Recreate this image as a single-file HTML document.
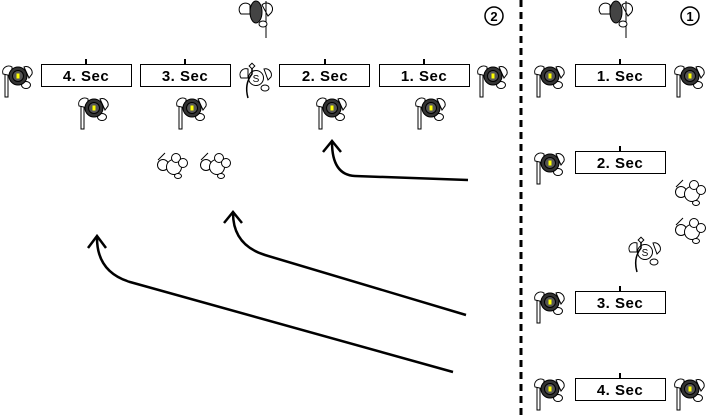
<!DOCTYPE html>
<html><head><meta charset="utf-8"><style>
html,body{margin:0;padding:0;background:#fff;}
svg{display:block}
text{font-family:"Liberation Sans",sans-serif;}
</style></head><body>
<svg width="712" height="417" viewBox="0 0 712 417" xmlns="http://www.w3.org/2000/svg">
<defs>
<g id="f" stroke="#000" stroke-width="1" fill="#fff">
<rect x="-13" y="-5" width="3" height="26"/>
<path d="M-15,-2 a6,6 0 0 1 9,-7 l0,9 z"/>
<path d="M6,-9 a6,6 0 0 1 8,7 l-3,4 z"/>
<ellipse cx="8" cy="9" rx="4.5" ry="3.5"/>
<circle cx="0" cy="0" r="9" fill="#333"/>
<circle cx="0" cy="0" r="5.5" fill="#555"/>
<rect x="-1.5" y="-2.5" width="3" height="5" fill="#ff0" stroke="none"/>
</g>
<g id="g" stroke="#000" stroke-width="1" fill="#fff">
<path d="M-15,2 a6,6 0 0 1 9,-9 l0,9 z"/>
<path d="M6,-7 a6,6 0 0 1 9,8 l-3,3 z"/>
<line x1="10" y1="-11" x2="10" y2="26"/>
<ellipse cx="0" cy="0" rx="6" ry="11" fill="#444"/>
<ellipse cx="7" cy="12" rx="4" ry="3"/>
</g>
<g id="d" stroke="#000" stroke-width="1" fill="#fff">
<path d="M-14,-3 l7,-7"/>
<circle cx="-9" cy="2" r="5.5"/>
<circle cx="2" cy="4" r="7.5"/>
<circle cx="4" cy="-5" r="4.5"/>
<circle cx="11" cy="0" r="4.5"/>
<ellipse cx="6" cy="13" rx="3.5" ry="2.5"/>
</g>
<g id="s" stroke="#000" stroke-width="1" fill="#fff">
<path d="M-15,2 a6,6 0 0 1 7,-9 l0,9 z"/>
<path d="M8,-7 a6,6 0 0 1 7,8 l-3,3 z"/>
<circle cx="0" cy="2" r="7.5"/>
<text x="0" y="6" font-size="10" text-anchor="middle" fill="#000" stroke="none">S</text>
<ellipse cx="9" cy="12" rx="4" ry="3"/>
<path d="M-4,-8 l0,6 q-8,10 -4,24" fill="none" stroke-width="1.5"/>
<rect x="-6" y="-12" width="4" height="4" transform="rotate(45 -4 -10)"/>
</g>
</defs>
<line x1="521" y1="0" x2="521" y2="417" stroke="#000" stroke-width="3" stroke-dasharray="7,5"/>
<g stroke="#000" stroke-width="1" fill="#fff">
<rect x="41.5" y="64.5" width="90" height="22"/>
<rect x="140.5" y="64.5" width="90" height="22"/>
<rect x="279.5" y="64.5" width="90" height="22"/>
<rect x="379.5" y="64.5" width="90" height="22"/>
<rect x="575.5" y="64.5" width="90" height="22"/>
<rect x="575.5" y="151.5" width="90" height="22"/>
<rect x="575.5" y="291.5" width="90" height="22"/>
<rect x="575.5" y="378.5" width="90" height="22"/>
</g>
<g stroke="#000" stroke-width="2">
<line x1="86" y1="59" x2="86" y2="65"/><line x1="185" y1="59" x2="185" y2="65"/>
<line x1="325" y1="59" x2="325" y2="65"/><line x1="424" y1="59" x2="424" y2="65"/>
<line x1="620" y1="59" x2="620" y2="65"/><line x1="620" y1="146" x2="620" y2="152"/>
<line x1="620" y1="286" x2="620" y2="292"/><line x1="620" y1="373" x2="620" y2="379"/>
</g>
<g font-size="15" font-weight="bold" text-anchor="middle" fill="#000" style="letter-spacing:0.5px">
<text x="86" y="81">4. Sec</text><text x="185" y="81">3. Sec</text>
<text x="325" y="81">2. Sec</text><text x="424" y="81">1. Sec</text>
<text x="620" y="81">1. Sec</text><text x="620" y="168">2. Sec</text>
<text x="620" y="308">3. Sec</text><text x="620" y="395">4. Sec</text>
</g>
<circle cx="494" cy="16" r="9" fill="#fff" stroke="#000" stroke-width="1.5"/>
<text x="494" y="21" font-size="13" font-weight="bold" text-anchor="middle">2</text>
<circle cx="690" cy="16" r="9" fill="#fff" stroke="#000" stroke-width="1.5"/>
<text x="690" y="21" font-size="13" font-weight="bold" text-anchor="middle">1</text>
<use href="#f" x="18" y="76"/><use href="#f" x="94" y="108"/><use href="#f" x="192" y="108"/>
<use href="#f" x="332" y="108"/><use href="#f" x="431" y="108"/><use href="#f" x="493" y="76"/>
<use href="#f" x="550" y="76"/><use href="#f" x="690" y="76"/><use href="#f" x="550" y="163"/>
<use href="#f" x="550" y="302"/><use href="#f" x="550" y="389"/><use href="#f" x="690" y="389"/>
<use href="#g" x="256" y="12"/><use href="#g" x="616" y="12"/>
<use href="#s" x="256" y="76"/><use href="#s" x="645" y="250"/>
<use href="#d" x="172" y="163"/><use href="#d" x="215" y="163"/>
<use href="#d" x="690" y="190"/><use href="#d" x="690" y="228"/>
<g fill="none" stroke="#000" stroke-width="2.5">
<path d="M468,180 L355,176 Q332,175 332,142"/>
<path d="M323,152 L332,141 L341,152"/>
<path d="M466,315 L265,255 Q233,245 233,213"/>
<path d="M224,223 L233,212 L242,223"/>
<path d="M453,372 L130,282 Q97,272 97,238"/>
<path d="M88,248 L97,236 L106,248"/>
</g>
</svg>
</body></html>
